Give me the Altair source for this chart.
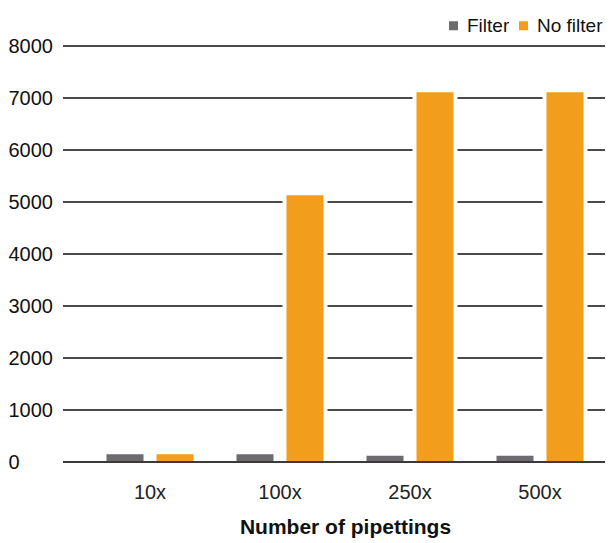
import altair as alt
import pandas as pd

categories = ["10x", "100x", "250x", "500x"]
filter_vals = [150, 150, 120, 120]
nofilter_vals = [150, 5130, 7110, 7110]
series = ["Filter", "No filter"]
colors = ["#6e6b70", "#f29d1c"]
tick_values = [0, 1000, 2000, 3000, 4000, 5000, 6000, 7000, 8000]

rows = []
for c, f, n in zip(categories, filter_vals, nofilter_vals):
    rows.append({"cat": c, "type": "Filter", "value": f})
    rows.append({"cat": c, "type": "No filter", "value": n})
df = pd.DataFrame(rows)
grid_df = pd.DataFrame({"value": tick_values})

FONT = "Liberation Sans"
W, H = 542, 416
yscale = alt.Scale(domain=[0, 8000])
y_axis = alt.Axis(values=tick_values, format="d", ticks=False, tickSize=0,
                  domain=False, grid=False,
                  labelAlign="left", labelPadding=55, labelFontSize=20,
                  labelFont=FONT, labelColor="#111")

x_enc = alt.X("cat:N", sort=categories, title="Number of pipettings",
              scale=alt.Scale(paddingInner=0, paddingOuter=0, range=[22, 542]),
              axis=alt.Axis(labelAngle=0, ticks=False, domain=False, labelPadding=20,
                            labelFontSize=20, labelFont=FONT, labelColor="#222",
                            titleFontSize=21, titleFont=FONT, titleFontWeight="bold",
                            titleColor="#111", titlePadding=14))
y_enc = alt.Y("value:Q", title=None, scale=yscale, axis=y_axis)
xo = alt.XOffset("type:N", sort=series,
                 scale=alt.Scale(paddingInner=0.26, paddingOuter=0.43))

grid = alt.Chart(grid_df).mark_rule(color="#4a4a4a", strokeWidth=2).encode(y=y_enc)

base = alt.Chart(df)

halo = base.transform_filter(alt.datum.type == "No filter").mark_bar(
    color="white", stroke="white", strokeWidth=8
).encode(x=x_enc, xOffset=xo, y=y_enc)

bars = base.mark_bar().encode(
    x=x_enc, xOffset=xo, y=y_enc,
    color=alt.Color("type:N", sort=series,
                    scale=alt.Scale(domain=series, range=colors),
                    legend=alt.Legend(title=None, orient="none", direction="horizontal",
                                      legendX=381, legendY=-30, padding=0,
                                      symbolType="square", symbolSize=81,
                                      symbolStrokeWidth=0,
                                      labelFontSize=19, labelFont=FONT,
                                      labelColor="#111", columnPadding=4,
                                      labelOffset=4))
)

zero = alt.Chart(pd.DataFrame({"value": [0]})).mark_rule(
    color="#3a3a3a", strokeWidth=2).encode(y=y_enc)

chart = alt.layer(grid, halo, bars, zero).properties(
    width=W, height=H,
    background="white",
    autosize=alt.AutoSizeParams(type="none"),
    padding={"left": 55, "top": 38, "right": 0, "bottom": 80},
).configure_view(stroke=None)

chart.save("out.html", embed_options={"renderer": "svg", "actions": False})
